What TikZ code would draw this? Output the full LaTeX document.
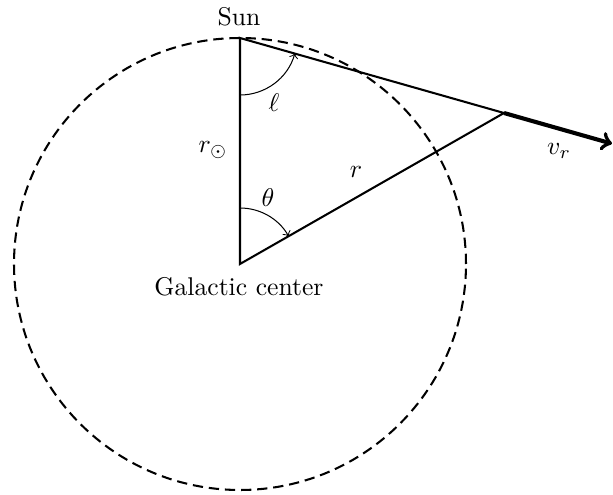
\documentclass[tikz,border=0pt]{standalone}
\usetikzlibrary{calc}
\begin{document}
\begin{tikzpicture}[x=0.39pt,y=0.39pt,
  mainline/.style={line width=0.8pt},
  orbit/.style={line width=0.8pt,dash pattern=on 4pt off 2.3pt},
  anglearc/.style={line width=0.4pt,->},
  velarrow/.style={line width=1.6pt,->},
  lbl/.style={inner sep=0pt}]
\useasboundingbox (0,0) rectangle (613,495);
\coordinate (gc) at (240,231);
\coordinate (sun) at (240,457);
\coordinate (p) at (504,382);
\coordinate (vend) at (612,351.3);
\draw[orbit] (gc) circle[radius=226];
\draw[mainline] (gc) -- (sun) -- (p) -- cycle;
\draw[velarrow] (p) -- (vend);
\draw[anglearc] ($(sun)+(270:57)$) arc[start angle=270,end angle=344.1,radius=57];
\draw[anglearc] ($(gc)+(90:56)$) arc[start angle=90,end angle=29.8,radius=56];
\node[lbl] (sunlbl) at (239,478) {Sun};
\node[lbl] (gclbl) at (239,208) {Galactic center};
\node[lbl] (ell) at (274,392) {$\ell$};
\node[lbl] (theta) at (268,297) {$\theta$};
\node[lbl] (rsun) at (213,345) {$r_\odot$};
\node[lbl] (r) at (356,323) {$r$};
\node[lbl] (vr) at (559,344) {$v_r$};
\end{tikzpicture}
\end{document}
